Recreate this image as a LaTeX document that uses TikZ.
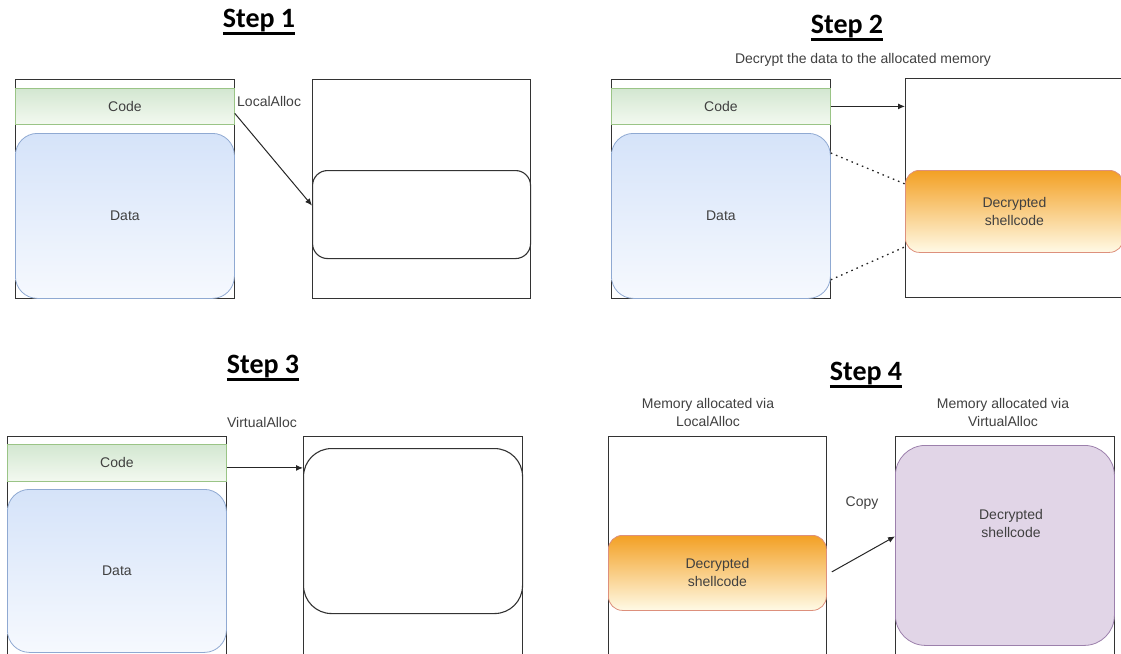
\documentclass[tikz,border=0pt]{standalone}
\usepackage{fontspec}
\setmainfont{Liberation Sans}
\newfontfamily\titlefont{Carlito}
\usetikzlibrary{arrows.meta}

\definecolor{codetop}{HTML}{D3E7D1}
\definecolor{codebot}{HTML}{F3F9F0}
\definecolor{codeline}{HTML}{9AC486}
\definecolor{datatop}{HTML}{D5E3F9}
\definecolor{databot}{HTML}{F6F9FE}
\definecolor{dataline}{HTML}{8FA9D2}
\definecolor{shelltop}{HTML}{F3A024}
\definecolor{shellbot}{HTML}{FFFAE6}
\definecolor{shellline}{HTML}{DD907C}
\definecolor{copyfill}{HTML}{E1D5E7}
\definecolor{copyline}{HTML}{9C80AC}

\newcommand{\steptitle}[1]{\setbox0\hbox{#1}\leavevmode\rlap{\rule[\dimexpr-\dp0-2.5pt\relax]{\wd0}{2.6pt}}\box0}

\tikzset{
  membox/.style={draw=black!80, line width=1.1pt, minimum width=219pt, minimum height=219pt, inner sep=0pt, anchor=north west},
  codeband/.style={draw=codeline, line width=0.8pt, top color=codetop, bottom color=codebot, minimum width=219pt, minimum height=36pt, inner sep=0pt, anchor=north west},
  databox/.style={draw=dataline, line width=0.8pt, top color=datatop, bottom color=databot, rounded corners=22pt, minimum width=219pt, inner sep=0pt, anchor=north west},
  allocbox/.style={draw=black!80, line width=1.1pt, fill=white, minimum width=218pt, inner sep=0pt, anchor=north west},
  shellbox/.style={draw=shellline, line width=0.8pt, top color=shelltop, bottom color=shellbot, rounded corners=14pt, minimum width=218pt, inner sep=0pt, anchor=north west, align=center},
  txt/.style={font=\fontsize{14}{18}\selectfont, text=black!75},
  lbl/.style={txt, inner sep=0pt},
  steplbl/.style={font=\titlefont\bfseries\fontsize{28}{32}\selectfont, inner sep=0pt},
  flow/.style={draw=black!85, line width=1pt, -{Latex[length=7pt,width=6pt]}},
  copied/.style={draw=black!85, line width=1.3pt, dash pattern=on 1.6pt off 4pt}
}

\begin{document}
\begin{tikzpicture}[x=1pt, y=-1pt]
\useasboundingbox (0,0) rectangle (1121,653);

% step 1: LocalAlloc
\node[steplbl] (title1) at (259,22) {\steptitle{Step 1}};
\node[membox] (mem1a) at (15,79) {};
\node[codeband, txt] (code1) at (15,88) {Code};
\node[databox, minimum height=165pt, txt] (data1) at (15,133) {Data};
\node[membox, minimum width=218pt] (mem1b) at (312,79) {};
\node[allocbox, rounded corners=15pt, minimum height=88pt] (alloc1) at (312,170) {};
\node[lbl, anchor=west] (lbl1) at (237,101) {LocalAlloc};
\draw[flow] ([yshift=-7pt]code1.east) -- ([yshift=9pt]alloc1.west);

% step 2: decrypt
\node[steplbl] (title2) at (847,28) {\steptitle{Step 2}};
\node[lbl] (note2) at (863,60) {Decrypt the data to the allocated memory};
\node[membox] (mem2a) at (611,79) {};
\node[codeband, txt] (code2) at (611,88) {Code};
\node[databox, minimum height=165pt, txt] (data2) at (611,133) {Data};
\node[membox, minimum width=218pt] (mem2b) at (905,78) {};
\node[shellbox, minimum height=82pt, txt] (shell2) at (905,170) {Decrypted\\shellcode};
\draw[flow] (code2.east) -- (mem2b.west |- code2.east);
\draw[copied] ([yshift=-20pt]data2.north east) -- ([yshift=-14pt]shell2.north west);
\draw[copied] ([yshift=19pt]data2.south east) -- ([yshift=6pt]shell2.south west);

% step 3: VirtualAlloc
\node[steplbl] (title3) at (263,368) {\steptitle{Step 3}};
\node[membox] (mem3a) at (7,436) {};
\node[codeband, minimum height=37pt, txt] (code3) at (7,444) {Code};
\node[databox, minimum height=163pt, txt] (data3) at (7,489) {Data};
\node[membox] (mem3b) at (303,436) {};
\node[allocbox, rounded corners=28pt, minimum width=219pt, minimum height=165pt] (alloc3) at (303,448) {};
\node[lbl] (lbl3) at (262,422) {VirtualAlloc};
\draw[flow] ([yshift=-5pt]code3.east) -- ([yshift=-5pt]mem3b.west |- code3.east);

% step 4: copy
\node[steplbl] (title4) at (866,375) {\steptitle{Step 4}};
\node[lbl, align=center] (cap4a) at (708,412) {Memory allocated via\\LocalAlloc};
\node[lbl, align=center] (cap4b) at (1003,412) {Memory allocated via\\VirtualAlloc};
\node[membox, minimum width=218pt] (mem4a) at (608,436) {};
\node[shellbox, minimum height=75pt, txt] (shell4) at (608,535) {Decrypted\\shellcode};
\node[membox] (mem4b) at (895,436) {};
\node[draw=copyline, line width=0.8pt, fill=copyfill, rounded corners=30pt, minimum width=219pt, minimum height=200pt, anchor=north west] (exec4) at (895,445) {};
\node[lbl, align=center] (txt4) at (1011,523) {Decrypted\\shellcode};
\node[lbl] (lbl4) at (862,503) {Copy};
\draw[flow] ([xshift=5pt, yshift=1pt]shell4.east) -- ([yshift=9pt]exec4.west);
\end{tikzpicture}
\end{document}
